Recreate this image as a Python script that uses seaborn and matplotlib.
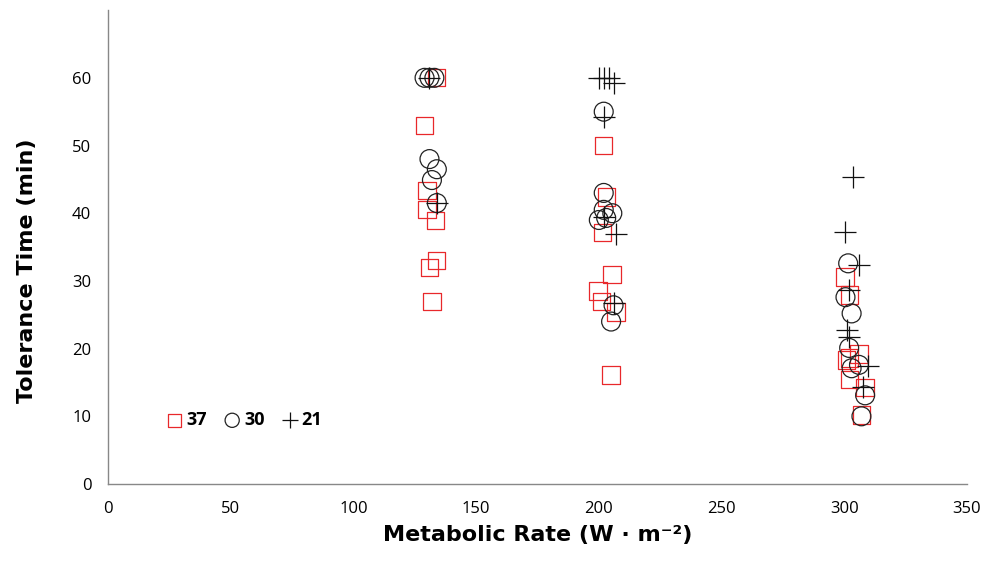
import matplotlib
matplotlib.use("Agg")
import matplotlib.pyplot as plt
import seaborn as sns

# tolerance time vs metabolic rate, three ambient temperatures
x37 = [134, 129, 130, 130, 133.5, 134, 131, 132,
       202, 203, 201.5, 205.4, 199.7, 201, 207, 205,
       300.3, 302, 306, 302, 301, 302, 308.5, 307]
y37 = [60, 53, 43.4, 40.5, 38.9, 33, 32, 27,
       50, 42.4, 37.2, 31, 28.5, 27, 25.4, 16.1,
       30.6, 27.9, 19.2, 18.6, 18.3, 15.4, 14.3, 10.2]

x30 = [129, 131, 133, 131, 134, 132, 134,
       202, 202, 202, 205.5, 200, 203, 206, 205,
       301.6, 300.5, 303, 302, 306, 303, 308.5, 307]
y30 = [60, 60, 60, 48, 46.5, 44.9, 41.5,
       55, 43, 40.5, 40, 39, 39.3, 26.4, 24,
       32.6, 27.6, 25.2, 20.1, 17.6, 17.1, 13.1, 10]

x21 = [131, 134,
       200, 202, 204, 206, 202, 202, 207, 206,
       303.6, 300.3, 306, 302, 301, 302, 309.7, 307.5]
y21 = [60, 41.5,
       60, 60, 60, 59.3, 54.2, 39.4, 37, 26.7,
       45.4, 37.2, 32.3, 28.7, 22.7, 21.7, 17.4, 14.3]

xticks = [0, 50, 100, 150, 200, 250, 300, 350]
yticks = [0, 10, 20, 30, 40, 50, 60]

sns.set_style("white")
plt.rcParams["font.family"] = ["Open Sans", "DejaVu Sans"]
plt.rcParams["text.color"] = "black"

fig = plt.figure(figsize=(9.85, 5.63), dpi=100)
ax = fig.add_axes([0.1096, 0.1403, 0.8721, 0.8417])

sns.scatterplot(x=x37, y=y37, marker="s", s=155, color="#e8282b",
                facecolor="none", edgecolor="#e8282b", linewidth=0.9,
                label="37", ax=ax)
sns.scatterplot(x=x30, y=y30, marker="o", s=185, color="#222222",
                facecolor="none", edgecolor="#222222", linewidth=0.9,
                label="30", ax=ax)
sns.scatterplot(x=x21, y=y21, marker="+", s=230, color="#111111",
                linewidth=0.9, label="21", ax=ax)

ax.set_xlim(0, 350)
ax.set_ylim(0, 70)
ax.set_xticks(xticks)
ax.set_yticks(yticks)
ax.tick_params(axis="both", direction="out", length=6, width=1,
               color="#888888", labelsize=12, labelcolor="black", pad=6)

for side in ["top", "right"]:
    ax.spines[side].set_visible(False)
for side in ["left", "bottom"]:
    ax.spines[side].set_color("#888888")
    ax.spines[side].set_linewidth(1)

ax.set_xlabel("Metabolic Rate (W · m⁻²)", fontsize=16, fontweight="heavy",
              family="DejaVu Sans", color="black", labelpad=6)
ax.set_ylabel("Tolerance Time (min)", fontsize=16, fontweight="heavy",
              family="DejaVu Sans", color="black")
ax.yaxis.set_label_coords(-0.083, 0.45)

ax.legend(loc="center left", bbox_to_anchor=(0.067, 0.135), ncol=3,
          frameon=False, handlelength=1.0, handletextpad=0.15,
          columnspacing=0.9, borderpad=0, borderaxespad=0, markerscale=0.75,
          prop={"weight": "bold", "size": 13})

fig.savefig("out.png", dpi=100)
